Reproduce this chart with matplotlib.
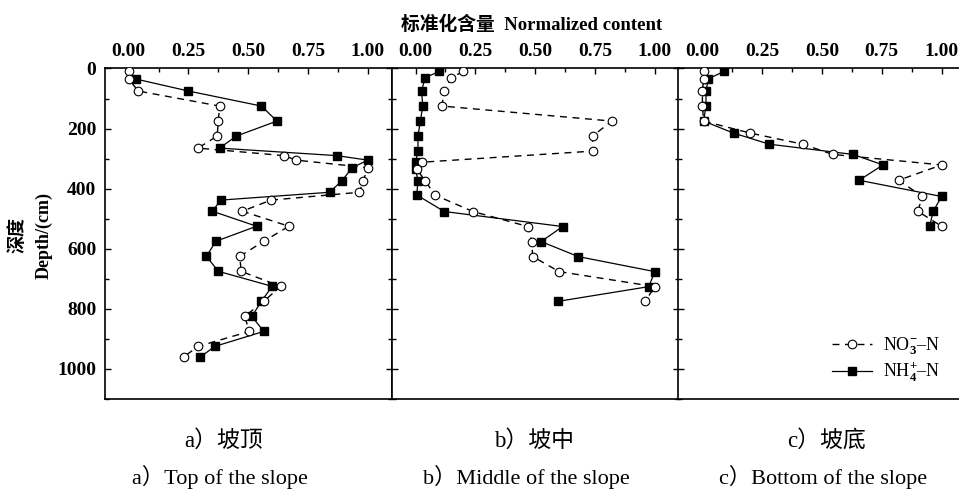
import numpy as np
import matplotlib
matplotlib.use('Agg')
import matplotlib.pyplot as plt
from matplotlib.ticker import MultipleLocator, FormatStrFormatter

plt.rcParams['font.family'] = ['Liberation Serif', 'Noto Sans CJK SC']
plt.rcParams['font.weight'] = 'bold'
plt.rcParams['mathtext.fontset'] = 'custom'
plt.rcParams['mathtext.rm'] = 'Liberation Serif'
plt.rcParams['mathtext.it'] = 'Liberation Serif:italic'
plt.rcParams['mathtext.bf'] = 'Liberation Serif:bold'

# a) 坡顶
no3_a_depth = [10, 35, 75, 125, 175, 225, 265, 290, 305, 330, 375, 412, 438, 475, 525,
               575, 625, 675, 725, 775, 825, 875, 925, 960]
no3_a = [0.00, 0.00, 0.04, 0.38, 0.375, 0.37, 0.29, 0.65, 0.70, 1.00, 0.98, 0.965, 0.595,
         0.475, 0.67, 0.565, 0.465, 0.47, 0.635, 0.565, 0.485, 0.505, 0.29, 0.23]
nh4_a_depth = [35, 75, 125, 175, 225, 265, 290, 305, 330, 375, 412, 438, 475, 525,
               575, 625, 675, 725, 775, 825, 875, 925, 960]
nh4_a = [0.03, 0.25, 0.555, 0.62, 0.45, 0.38, 0.87, 1.00, 0.935, 0.89, 0.84, 0.385, 0.35,
         0.535, 0.365, 0.325, 0.375, 0.60, 0.555, 0.515, 0.565, 0.36, 0.30]

# b) 坡中
b_depth = [10, 30, 75, 125, 175, 225, 275, 312, 336, 373, 421, 476, 526, 576, 626, 676, 726, 775]
no3_b = [0.20, 0.15, 0.12, 0.11, 0.82, 0.74, 0.74, 0.025, 0.005, 0.04, 0.08, 0.24, 0.47,
         0.485, 0.49, 0.60, 1.00, 0.96]
nh4_b = [0.10, 0.04, 0.025, 0.03, 0.02, 0.01, 0.01, 0.0, 0.0, 0.01, 0.005, 0.12, 0.615,
         0.525, 0.68, 1.00, 0.975, 0.595]

# c) 坡底
c_depth = [10, 34, 75, 125, 175, 215, 252, 286, 321, 372, 426, 475, 525]
no3_c = [0.005, 0.005, 0.0, 0.0, 0.005, 0.20, 0.42, 0.545, 1.00, 0.82, 0.92, 0.90, 1.00]
nh4_c = [0.09, 0.025, 0.015, 0.015, 0.005, 0.13, 0.28, 0.63, 0.755, 0.655, 1.00, 0.965, 0.95]

captions_cn = ['a）坡顶', 'b）坡中', 'c）坡底']
captions_en = ['a）Top of the slope', 'b）Middle of the slope', 'c）Bottom of the slope']

panels = [
    (no3_a_depth, no3_a, nh4_a_depth, nh4_a),
    (b_depth, no3_b, b_depth, nh4_b),
    (c_depth, no3_c, c_depth, nh4_c),
]
lefts = [0.1092, 0.4084, 0.7075]
cn_x = [224 / 959, 534 / 959, 826 / 959]
en_x = [220 / 959, 526 / 959, 823 / 959]

fig = plt.figure(figsize=(9.59, 4.92), dpi=100)

axes = []
for i, (d1, v1, d2, v2) in enumerate(panels):
    ax = fig.add_axes([lefts[i], 0.189, 0.2993, 0.6718])
    l_nh4, = ax.plot(v2, d2, '-', color='black', lw=0.9, marker='s', ms=5.2,
                     mfc='black', mec='black', zorder=3, label=r'NH$_4^{+}$–N')
    l_no3, = ax.plot(v1, d1, color='black', lw=1.0, ls=(0, (5, 4)), marker='o', ms=6.2,
                     mfc='white', mec='black', mew=0.8, zorder=4, label=r'NO$_3^{-}$–N')
    ax.set_xlim(-0.1, 1.1)
    ax.set_ylim(1100, 0)
    ax.xaxis.set_major_locator(MultipleLocator(0.25))
    ax.xaxis.set_minor_locator(MultipleLocator(0.125))
    ax.xaxis.set_major_formatter(FormatStrFormatter('%.2f'))
    ax.yaxis.set_major_locator(MultipleLocator(200))
    ax.yaxis.set_minor_locator(MultipleLocator(100))
    ax.tick_params(axis='x', which='both', direction='in', top=True, bottom=False,
                   labeltop=True, labelbottom=False)
    ax.tick_params(axis='y', which='both', direction='in', left=True, right=True,
                   labelleft=(i == 0))
    ax.tick_params(which='major', length=4, width=1, labelsize=14, pad=6)
    ax.tick_params(which='minor', length=3, width=1)
    for s in ax.spines.values():
        s.set_linewidth(1.2)
    fig.text(cn_x[i], 1 - 441 / 492, captions_cn[i], ha='center', va='center',
             fontsize=16.5, fontweight='normal')
    fig.text(en_x[i], 1 - 477 / 492, captions_en[i], ha='center', va='center',
             fontsize=16, fontweight='normal')
    axes.append(ax)

fig.legend([l_no3, l_nh4], [l_no3.get_label(), l_nh4.get_label()],
           loc='lower left', bbox_to_anchor=(0.851, 0.187), bbox_transform=fig.transFigure,
           frameon=False, handlelength=2.2, handletextpad=0.6, labelspacing=0.2,
           prop={'size': 13, 'weight': 'normal'})

fig.text(0.5544, 1 - 25 / 492, '标准化含量  Normalized content', ha='center', va='center',
         fontsize=13.5, fontweight='bold')
fig.text(18 / 959, 0.522, '深度', rotation=90, ha='center', va='center',
         fontsize=13, fontweight='bold')
fig.text(44 / 959, 0.522, 'Depth/(cm)', rotation=90, ha='center', va='center',
         fontsize=13, fontweight='bold')

fig.savefig('out.png', dpi=100)
